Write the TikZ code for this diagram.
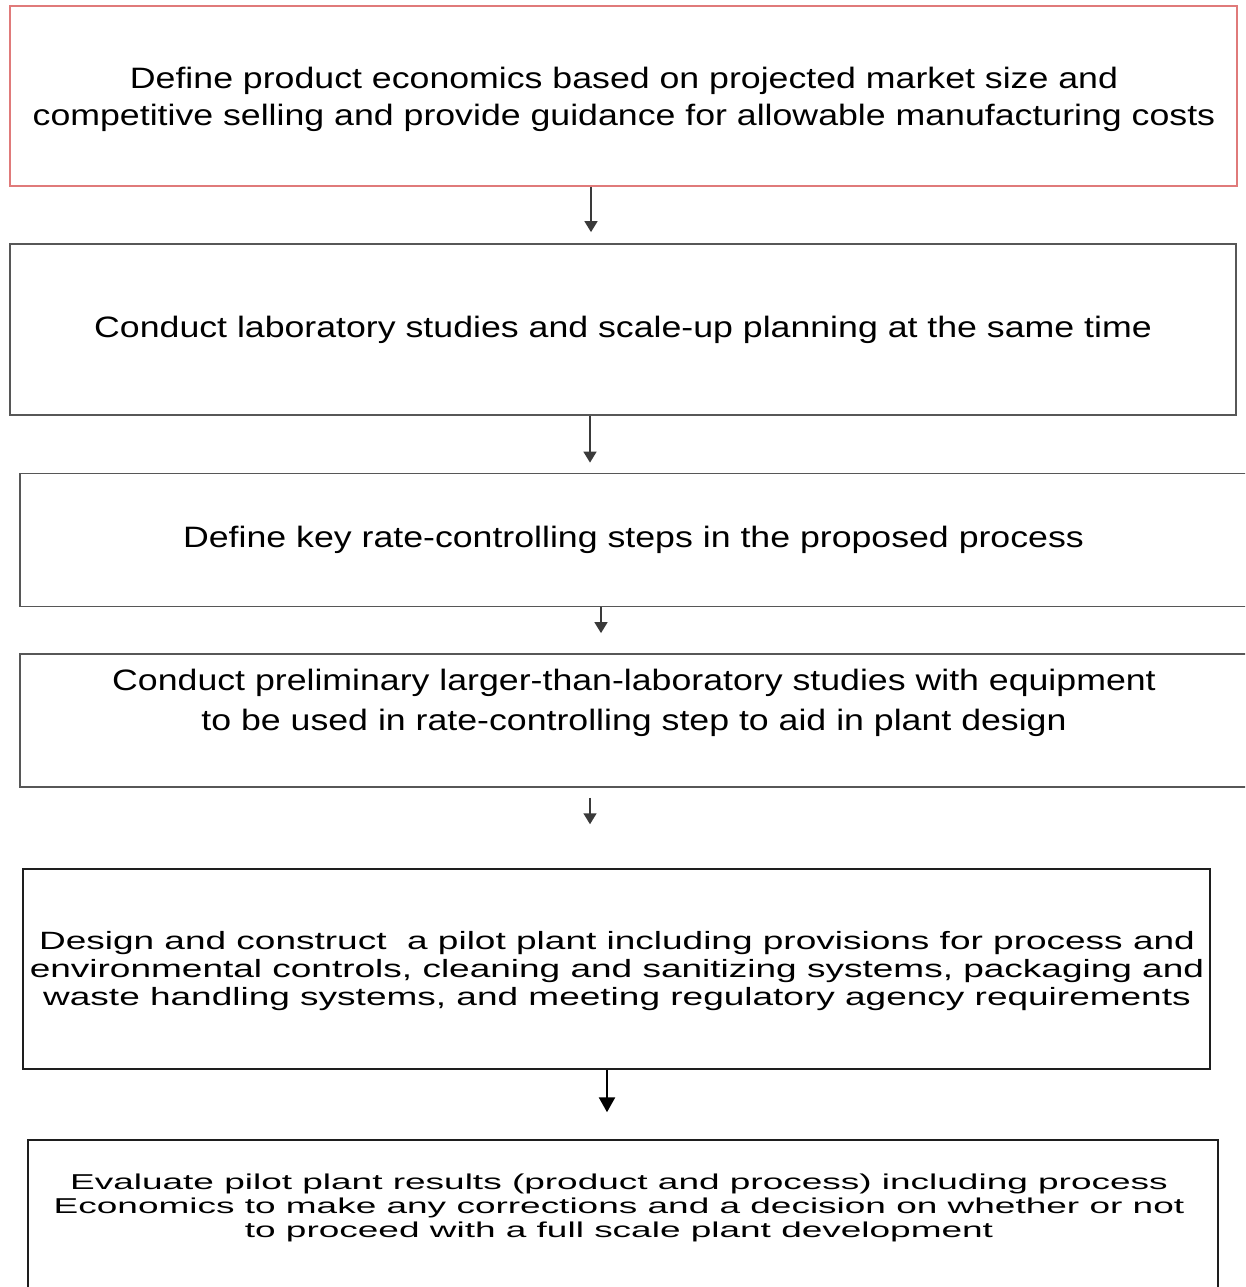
\documentclass[tikz,border=0pt]{standalone}
\usepackage{fontspec}
\setmainfont{Liberation Sans}
\newfontfamily\wideA[FakeStretch=1.21]{Liberation Sans}
\newfontfamily\wideB[FakeStretch=1.48]{Liberation Sans}
\newfontfamily\wideC[FakeStretch=1.72]{Liberation Sans}
\usetikzlibrary{arrows.meta}
\definecolor{redframe}{HTML}{E07A7A}
\definecolor{greyframe}{HTML}{575757}
\definecolor{darkframe}{HTML}{1E1E1E}
\definecolor{linkgrey}{HTML}{3A3A3A}
\tikzset{
  stagebox/.style={draw=greyframe, line width=1.8pt, rectangle, inner sep=0pt,
    align=center, font=\wideA\fontsize{29.5}{37}\selectfont},
  redbox/.style={stagebox, draw=redframe, line width=1.6pt},
  darkbox/.style={stagebox, draw=darkframe, line width=1.5pt},
  boxtext/.style={align=center, inner sep=0pt},
  link/.style={draw=linkgrey, line width=1.7pt,
    -{Triangle[width=13pt,length=11pt]}},
  biglink/.style={draw=black, line width=2.6pt,
    -{Triangle[width=16pt,length=15pt]}}
}
\begin{document}
\begin{tikzpicture}[x=1pt, y=-1pt]
\useasboundingbox (0,0) rectangle (1245,1287);
\clip (0,0) rectangle (1245,1287);
\fill[white] (0,0) rectangle (1245,1287);

% stage 1
\node[redbox, minimum width=1227pt, minimum height=180pt] (b1) at (623.5,96) {};
\node[boxtext, font=\wideA\fontsize{29.5}{37}\selectfont] (t1) at (624,99)
  {Define product economics based on projected market size and\\
   competitive selling and provide guidance for allowable manufacturing costs};

% stage 2
\node[stagebox, minimum width=1226pt, minimum height=171pt] (b2) at (623,329.5)
  {Conduct laboratory studies and scale-up planning at the same time};

% stage 3
\node[stagebox, minimum width=1227pt, minimum height=133pt] (b3) at (633.5,540)
  {Define key rate-controlling steps in the proposed process};

% stage 4 (text sits in the upper part of the frame)
\node[stagebox, minimum width=1228pt, minimum height=133pt] (b4) at (634,720.5) {};
\node[boxtext, font=\wideA\fontsize{29.5}{40}\selectfont] (t4) at (634,703)
  {Conduct preliminary larger-than-laboratory studies with equipment\\
   to be used in rate-controlling step to aid in plant design};

% stage 5
\node[darkbox, minimum width=1187pt, minimum height=200pt] (b5) at (616.5,969) {};
\node[boxtext, font=\wideB\fontsize{25}{28}\selectfont] (t5) at (617,971)
  {Design and construct\ \ a pilot plant including provisions for process and\\
   environmental controls, cleaning and sanitizing systems, packaging and\\
   waste handling systems, and meeting regulatory agency requirements};

% stage 6 (frame runs past the lower edge)
\node[darkbox, minimum width=1190pt, minimum height=170pt] (b6) at (623,1225) {};
\node[boxtext, font=\wideC\fontsize{21.5}{24}\selectfont] (t6) at (619,1208)
  {Evaluate pilot plant results (product and process) including process\\
   Economics to make any corrections and a decision on whether or not\\
   to proceed with a full scale plant development};

% connectors
\draw[link, shorten >=11pt] ([xshift=-32.5pt]b1.south) -- ([xshift=-32.5pt]b1.south |- b2.north);
\draw[link, shorten >=10pt] ([xshift=-33pt]b2.south) -- ([xshift=-33pt]b2.south |- b3.north);
\draw[link, shorten >=20pt] ([xshift=-32.5pt]b3.south) -- ([xshift=-32.5pt]b3.south |- b4.north);
\draw[link, shorten <=10pt, shorten >=44pt] ([xshift=-44pt]b4.south) -- ([xshift=-44pt]b4.south |- b5.north);
\draw[biglink, shorten >=27pt] ([xshift=-9.5pt]b5.south) -- ([xshift=-9.5pt]b5.south |- b6.north);
\end{tikzpicture}
\end{document}
